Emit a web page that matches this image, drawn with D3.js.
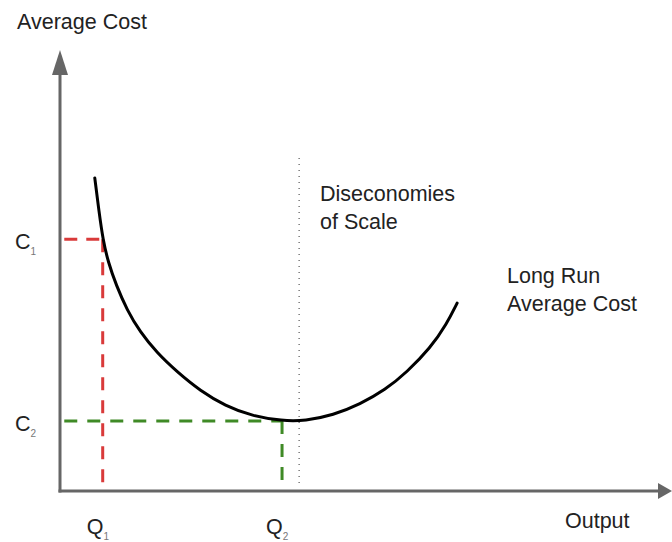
<!DOCTYPE html>
<html>
<head>
<meta charset="utf-8">
<style>
  body { margin: 0; background: #fff; }
  text { font-family: "Liberation Sans", Arial, sans-serif; fill: #222; }
</style>
</head>
<body>
<svg width="672" height="542"></svg>
<script src="https://d3js.org/d3.v7.min.js"></script>
<script>
// long run average cost curve (output 0-100, cost 0-100)
var curveOutput = [5.7, 6.4, 7.05, 7.9, 9.2, 11.0, 13.1, 15.9, 19.2, 23.0, 27.1, 31.5, 36.4, 40.2, 44.8, 49.2, 53.3, 56.9, 60.7, 63.4, 65.1];
var curveCost   = [71.0, 63.3, 56.9, 51.9, 46.7, 41.0, 36.1, 31.3, 27.0, 22.7, 19.3, 17.0, 15.9, 15.9, 17.2, 19.7, 22.9, 27.0, 32.4, 37.9, 42.6];

// reference levels
var qValues = [7.0, 36.4];
var cValues = [57.1, 15.9];
var refColors = ['#d93a3a', '#3f8a26'];
var qLabels = ['Q', 'Q'];
var cLabels = ['C', 'C'];
var subLabels = ['1', '2'];

var dividerOutput = 39.2;
var dividerTop = 75.5;

var svg = d3.select('svg');
var x = d3.scaleLinear().domain([0, 100]).range([60, 670]);
var y = d3.scaleLinear().domain([0, 100]).range([491, 50]);

var g = svg.append('g');

// dotted divider line
g.append('line')
    .attr('x1', x(dividerOutput)).attr('x2', x(dividerOutput))
    .attr('y1', y(dividerTop)).attr('y2', y(0) - 3)
    .attr('stroke', '#555')
    .attr('stroke-width', 1.2)
    .attr('stroke-dasharray', '1,5');

// dashed reference lines
qValues.forEach(function (q, i) {
    g.append('line')
        .attr('x1', x(0.7)).attr('x2', x(q))
        .attr('y1', y(cValues[i])).attr('y2', y(cValues[i]))
        .attr('stroke', refColors[i])
        .attr('stroke-width', 3)
        .attr('stroke-dasharray', i === 0 ? '13,9' : '13,10');
    g.append('line')
        .attr('x1', x(q)).attr('x2', x(q))
        .attr('y1', y(cValues[i])).attr('y2', y(0))
        .attr('stroke', refColors[i])
        .attr('stroke-width', 3)
        .attr('stroke-dasharray', '13,10');
});

// the curve
var line = d3.line()
    .x(function (d, i) { return x(curveOutput[i]); })
    .y(function (d, i) { return y(curveCost[i]); })
    .curve(d3.curveBasis);
g.append('path')
    .datum(curveOutput)
    .attr('fill', 'none')
    .attr('stroke', '#000')
    .attr('stroke-width', 3)
    .attr('stroke-linecap', 'round')
    .attr('d', line);

// axes
var axisColor = '#666';
g.append('line')
    .attr('x1', x(0)).attr('x2', x(0))
    .attr('y1', y(0) + 1.5).attr('y2', y(100) + 22)
    .attr('stroke', axisColor).attr('stroke-width', 3);
g.append('path')
    .attr('d', 'M' + x(0) + ',' + y(100) + 'L' + (x(0) - 8) + ',' + (y(100) + 25) + 'L' + (x(0) + 8) + ',' + (y(100) + 25) + 'Z')
    .attr('fill', axisColor);
g.append('line')
    .attr('x1', x(0) - 1.5).attr('x2', x(100) - 12)
    .attr('y1', y(0)).attr('y2', y(0))
    .attr('stroke', axisColor).attr('stroke-width', 3);
g.append('path')
    .attr('d', 'M' + (x(100) + 2) + ',' + y(0) + 'L' + (x(100) - 12) + ',' + (y(0) - 8) + 'L' + (x(100) - 12) + ',' + (y(0) + 8) + 'Z')
    .attr('fill', axisColor);

// labels
var fs = 21.5;
svg.append('text').attr('x', 17).attr('y', 29).attr('font-size', fs).text('Average Cost');
svg.append('text').attr('x', 565).attr('y', 528).attr('font-size', fs).text('Output');

svg.append('text').attr('x', 320).attr('y', 201).attr('font-size', fs).text('Diseconomies');
svg.append('text').attr('x', 320).attr('y', 229).attr('font-size', fs).text('of Scale');
svg.append('text').attr('x', 507).attr('y', 283).attr('font-size', fs).text('Long Run');
svg.append('text').attr('x', 507).attr('y', 311).attr('font-size', fs).text('Average Cost');

cValues.forEach(function (c, i) {
    var t = svg.append('text').attr('x', 15).attr('y', y(c) + 10).attr('font-size', fs);
    t.append('tspan').text(cLabels[i]);
    t.append('tspan').attr('dy', 6).attr('font-size', 10).attr('fill', '#777').text(subLabels[i]);
});
qValues.forEach(function (q, i) {
    var t = svg.append('text').attr('x', x(q) - 16).attr('y', 534).attr('font-size', fs);
    t.append('tspan').text(qLabels[i]);
    t.append('tspan').attr('dy', 6).attr('font-size', 10).attr('fill', '#777').text(subLabels[i]);
});
</script>
</body>
</html>
